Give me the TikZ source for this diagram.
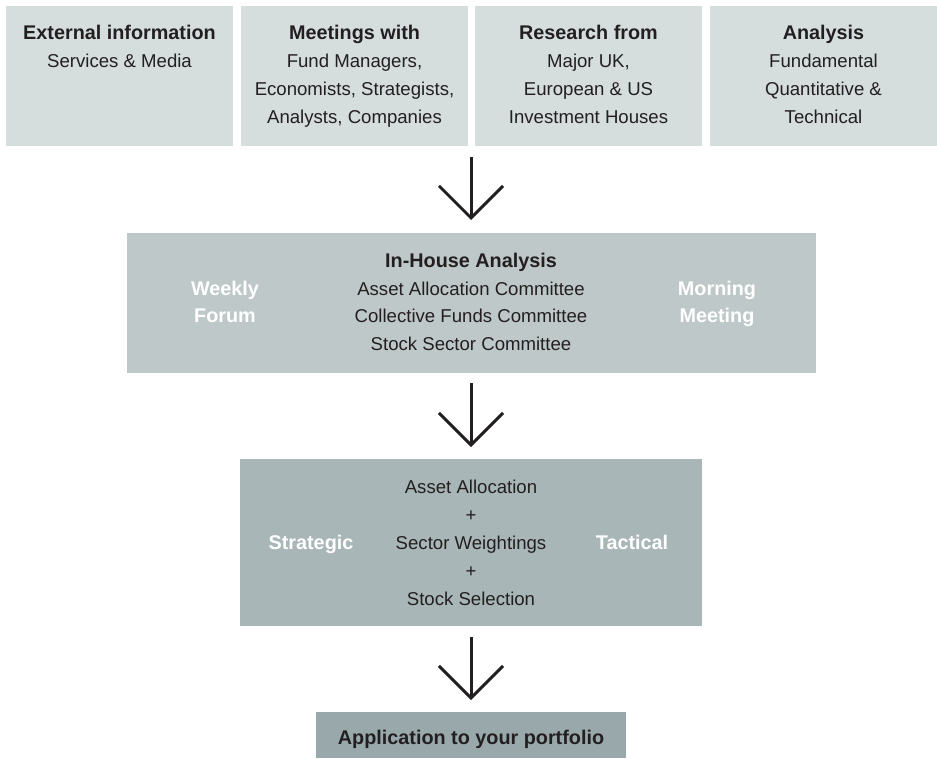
\documentclass[tikz,border=0pt]{standalone}
\usepackage{fontspec}
\setmainfont{Liberation Sans}
\usetikzlibrary{arrows.meta}
\definecolor{boxA}{HTML}{D5DEDD}
\definecolor{boxB}{HTML}{BFC8C8}
\definecolor{boxC}{HTML}{A9B6B7}
\definecolor{boxD}{HTML}{99A9AB}
\definecolor{ink}{HTML}{231F20}
\begin{document}
\begin{tikzpicture}[x=1pt,y=-1pt,
  panel/.style={draw=none, inner sep=0pt, outer sep=0pt},
  reg/.style={anchor=base, inner sep=0pt, text=ink, font=\fontsize{18.6}{28}\selectfont},
  hd/.style={anchor=base, inner sep=0pt, text=ink, font=\fontsize{19.8}{28}\selectfont\bfseries},
  wh/.style={anchor=base, inner sep=0pt, text=white, font=\fontsize{19.8}{28}\selectfont\bfseries},
  flow/.style={draw=ink, line width=3pt, -{Straight Barb[length=32pt,width=64pt]}}
]
\useasboundingbox (0,0) rectangle (937,758);

% top row
\node[panel, fill=boxA, minimum width=227pt, minimum height=140pt] (b1) at (119.5,76) {};
\node[panel, fill=boxA, minimum width=227pt, minimum height=140pt] (b2) at (354.5,76) {};
\node[panel, fill=boxA, minimum width=227pt, minimum height=140pt] (b3) at (588.5,76) {};
\node[panel, fill=boxA, minimum width=227pt, minimum height=140pt] (b4) at (823.5,76) {};

\node[hd]  (b1t) at (119.5,39) {External information};
\node[reg] (b1a) at (119.5,67) {Services \& Media};

\node[hd]  (b2t) at (354.5,39) {Meetings with};
\node[reg] (b2a) at (354.5,67) {Fund Managers,};
\node[reg] (b2b) at (354.5,95) {Economists, Strategists,};
\node[reg] (b2c) at (354.5,123) {Analysts, Companies};

\node[hd]  (b3t) at (588.5,39) {Research from};
\node[reg] (b3a) at (588.5,67) {Major UK,};
\node[reg] (b3b) at (588.5,95) {European \& US};
\node[reg] (b3c) at (588.5,123) {Investment Houses};

\node[hd]  (b4t) at (823.5,39) {Analysis};
\node[reg] (b4a) at (823.5,67) {Fundamental};
\node[reg] (b4b) at (823.5,95) {Quantitative \&};
\node[reg] (b4c) at (823.5,123) {Technical};

\coordinate (toprow) at (471,146);

% in-house analysis
\node[panel, fill=boxB, minimum width=689pt, minimum height=140pt] (mid) at (471,303) {};
\node[hd]  (m0) at (471,267) {In-House Analysis};
\node[reg] (m1) at (471,295) {Asset Allocation Committee};
\node[reg] (m2) at (471,322) {Collective Funds Committee};
\node[reg] (m3) at (471,350) {Stock Sector Committee};
\node[wh]  (w1) at (225,295) {Weekly};
\node[wh]  (w2) at (225,322) {Forum};
\node[wh]  (mm1) at (717,295) {Morning};
\node[wh]  (mm2) at (717,322) {Meeting};

% allocation
\node[panel, fill=boxC, minimum width=462pt, minimum height=167pt] (alloc) at (471,542.5) {};
\node[reg] (a1) at (471,493) {Asset Allocation};
\node[reg] (p1) at (471,521) {+};
\node[reg] (a2) at (471,549) {Sector Weightings};
\node[reg] (p2) at (471,577) {+};
\node[reg] (a3) at (471,605) {Stock Selection};
\node[wh]  (st) at (311,549) {Strategic};
\node[wh]  (ta) at (632,549) {Tactical};

% application
\node[panel, fill=boxD, minimum width=310pt, minimum height=46pt] (app) at (471,735) {};
\node[hd] (appt) at (471,744) {Application to your portfolio};

% arrows
\draw[flow, shorten <=11pt, shorten >=13pt] (toprow) -- (mid.north);
\draw[flow, shorten <=10pt, shorten >=12pt] (mid.south) -- (alloc.north);
\draw[flow, shorten <=11pt, shorten >=12pt] (alloc.south) -- (app.north);
\end{tikzpicture}
\end{document}
